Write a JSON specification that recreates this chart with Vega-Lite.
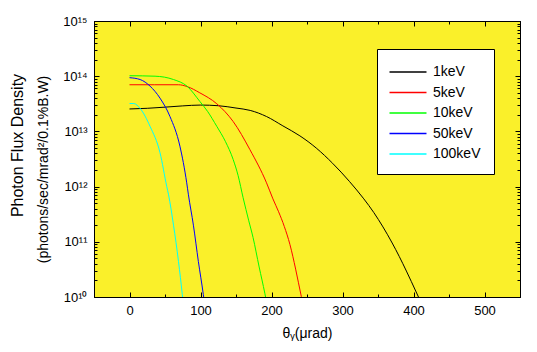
{
  "$schema": "https://vega.github.io/schema/vega-lite/v6.json",
  "width": 426,
  "height": 276,
  "autosize": {"type": "none"},
  "padding": {"left": 94, "top": 21, "right": 17, "bottom": 55},
  "background": "white",
  "config": {
    "view": {"fill": "#FAF02A", "stroke": "black", "strokeWidth": 1},
    "font": "Liberation Sans",
    "axis": {
      "grid": false,
      "domainColor": "black",
      "tickColor": "black",
      "labelColor": "black",
      "titleColor": "black",
      "labelFont": "Liberation Sans",
      "titleFont": "Liberation Sans",
      "labelFontSize": 13,
      "titleFontSize": 14,
      "titleFontWeight": "normal",
      "labelFlush": false,
      "labelOverlap": false
    },
    "legend": {
      "labelFont": "Liberation Sans",
      "labelFontSize": 14,
      "labelColor": "black"
    }
  },
  "data": {
    "values": [
      {"e": "1keV", "t": 0, "f": 2.55e13},
      {"e": "1keV", "t": 25, "f": 2.62e13},
      {"e": "1keV", "t": 50, "f": 2.75e13},
      {"e": "1keV", "t": 75, "f": 2.9e13},
      {"e": "1keV", "t": 100, "f": 3.0e13},
      {"e": "1keV", "t": 125, "f": 2.92e13},
      {"e": "1keV", "t": 150, "f": 2.65e13},
      {"e": "1keV", "t": 170, "f": 2.4e13},
      {"e": "1keV", "t": 193, "f": 1.86e13},
      {"e": "1keV", "t": 216, "f": 1.26e13},
      {"e": "1keV", "t": 240, "f": 8.3e12},
      {"e": "1keV", "t": 263, "f": 5.0e12},
      {"e": "1keV", "t": 286, "f": 2.65e12},
      {"e": "1keV", "t": 310, "f": 1.23e12},
      {"e": "1keV", "t": 330, "f": 6.0e11},
      {"e": "1keV", "t": 344, "f": 3.4e11},
      {"e": "1keV", "t": 357, "f": 1.86e11},
      {"e": "1keV", "t": 370, "f": 9.5e10},
      {"e": "1keV", "t": 380, "f": 5.4e10},
      {"e": "1keV", "t": 390, "f": 2.95e10},
      {"e": "1keV", "t": 397, "f": 1.9e10},
      {"e": "1keV", "t": 407, "f": 1.0e10},
      {"e": "1keV", "t": 412, "f": 7.2e9},
      {"e": "5keV", "t": 0, "f": 7.0e13},
      {"e": "5keV", "t": 35, "f": 7.0e13},
      {"e": "5keV", "t": 69, "f": 7.0e13},
      {"e": "5keV", "t": 81, "f": 6.5e13},
      {"e": "5keV", "t": 99, "f": 5.0e13},
      {"e": "5keV", "t": 123, "f": 3.16e13},
      {"e": "5keV", "t": 146, "f": 1.51e13},
      {"e": "5keV", "t": 169.5, "f": 4.7e12},
      {"e": "5keV", "t": 193, "f": 1.17e12},
      {"e": "5keV", "t": 202, "f": 6.0e11},
      {"e": "5keV", "t": 210, "f": 3.5e11},
      {"e": "5keV", "t": 218, "f": 1.9e11},
      {"e": "5keV", "t": 226, "f": 8.9e10},
      {"e": "5keV", "t": 234, "f": 3.2e10},
      {"e": "5keV", "t": 242, "f": 1.02e10},
      {"e": "5keV", "t": 245, "f": 6.8e9},
      {"e": "10keV", "t": 0, "f": 1.02e14},
      {"e": "10keV", "t": 36, "f": 1.0e14},
      {"e": "10keV", "t": 62, "f": 8.7e13},
      {"e": "10keV", "t": 81, "f": 6.6e13},
      {"e": "10keV", "t": 99, "f": 3.5e13},
      {"e": "10keV", "t": 110, "f": 2.3e13},
      {"e": "10keV", "t": 123, "f": 1.23e13},
      {"e": "10keV", "t": 135, "f": 6.6e12},
      {"e": "10keV", "t": 146, "f": 3.1e12},
      {"e": "10keV", "t": 153, "f": 1.58e12},
      {"e": "10keV", "t": 160, "f": 6.3e11},
      {"e": "10keV", "t": 168, "f": 2.4e11},
      {"e": "10keV", "t": 174, "f": 1.2e11},
      {"e": "10keV", "t": 182.6, "f": 3.5e10},
      {"e": "10keV", "t": 190.6, "f": 1.17e10},
      {"e": "10keV", "t": 194, "f": 7e9},
      {"e": "50keV", "t": 0, "f": 9.4e13},
      {"e": "50keV", "t": 15, "f": 8.7e13},
      {"e": "50keV", "t": 29, "f": 6.6e13},
      {"e": "50keV", "t": 43, "f": 4.0e13},
      {"e": "50keV", "t": 57, "f": 1.86e13},
      {"e": "50keV", "t": 71, "f": 5.4e12},
      {"e": "50keV", "t": 80.6, "f": 1.17e12},
      {"e": "50keV", "t": 83, "f": 7.1e11},
      {"e": "50keV", "t": 90, "f": 2.0e11},
      {"e": "50keV", "t": 97, "f": 4.4e10},
      {"e": "50keV", "t": 104, "f": 1.1e10},
      {"e": "50keV", "t": 106, "f": 7e9},
      {"e": "100keV", "t": 0, "f": 3.2e13},
      {"e": "100keV", "t": 6, "f": 3.2e13},
      {"e": "100keV", "t": 15, "f": 2.6e13},
      {"e": "100keV", "t": 29, "f": 1.23e13},
      {"e": "100keV", "t": 43, "f": 4.1e12},
      {"e": "100keV", "t": 52.5, "f": 1.0e12},
      {"e": "100keV", "t": 55, "f": 7.1e11},
      {"e": "100keV", "t": 62, "f": 2.0e11},
      {"e": "100keV", "t": 69, "f": 4.4e10},
      {"e": "100keV", "t": 74.4, "f": 1.1e10},
      {"e": "100keV", "t": 76, "f": 7e9}
    ]
  },
  "layer": [
    {
      "mark": {"type": "line", "clip": true, "strokeWidth": 1, "interpolate": "monotone"},
      "encoding": {
        "x": {
          "field": "t", "type": "quantitative",
          "scale": {"domain": [-50, 550], "nice": false, "zero": false},
          "axis": {
            "orient": "bottom",
            "values": [0, 50, 100, 150, 200, 250, 300, 350, 400, 450, 500],
            "tickSize": {"condition": {"test": "datum.value % 100 === 0", "value": -5}, "value": -3},
            "labelExpr": "datum.value % 100 === 0 ? format(datum.value, 'd') : ''",
            "labelPadding": 12,
            "title": "θᵧ(μrad)",
            "titleX": 213,
            "titleY": 36,
            "titleBaseline": "middle",
            "titleAlign": "center",
            "titleAnchor": null
          }
        },
        "y": {
          "field": "f", "type": "quantitative",
          "scale": {"type": "log", "domain": [1e10, 1e15], "nice": false},
          "axis": {
            "orient": "left",
            "values": [1e10, 2e10, 3e10, 4e10, 5e10, 6e10, 7e10, 8e10, 9e10,
                       1e11, 2e11, 3e11, 4e11, 5e11, 6e11, 7e11, 8e11, 9e11,
                       1e12, 2e12, 3e12, 4e12, 5e12, 6e12, 7e12, 8e12, 9e12,
                       1e13, 2e13, 3e13, 4e13, 5e13, 6e13, 7e13, 8e13, 9e13,
                       1e14, 2e14, 3e14, 4e14, 5e14, 6e14, 7e14, 8e14, 9e14, 1e15],
            "tickSize": {"condition": {"test": "abs(log(datum.value)/LN10 - round(log(datum.value)/LN10)) < 0.01", "value": -5}, "value": -3},
            "labelExpr": "abs(log(datum.value)/LN10 - round(log(datum.value)/LN10)) < 0.01 ? '10¹' + ['⁰','¹','²','³','⁴','⁵'][round(log(datum.value)/LN10) - 10] : ''",
            "labelPadding": 12,
            "labelBaseline": "middle",
            "title": "(photons/sec/mrad²/0.1%B.W)",
            "titleX": -51,
            "titleY": 148,
            "titleAngle": -90,
            "titleBaseline": "middle",
            "titleAlign": "center",
            "titleAnchor": null
          }
        },
        "color": {
          "field": "e", "type": "nominal",
          "scale": {
            "domain": ["1keV", "5keV", "10keV", "50keV", "100keV"],
            "range": ["#000000", "#FF0000", "#00FF00", "#0000FF", "#00FFFF"]
          },
          "legend": {
            "title": null,
            "orient": "none",
            "legendX": 283,
            "legendY": 28,
            "fillColor": "white",
            "strokeColor": "black",
            "padding": 13,
            "symbolType": "M-2,0H2",
            "symbolSize": 342,
            "symbolOffset": 8,
            "symbolStrokeWidth": 1.4,
            "labelOffset": 15,
            "rowPadding": 3.5,
            "encode": {
              "symbols": {
                "update": {
                  "stroke": {"scale": "color", "field": "value"},
                  "strokeWidth": {"value": 1.4},
                  "opacity": {"value": 1}
                }
              }
            }
          }
        }
      }
    },
    {
      "mark": {"type": "line", "clip": true, "strokeOpacity": 0},
      "encoding": {
        "x": {
          "field": "t", "type": "quantitative",
          "axis": {
            "orient": "top",
            "values": [0, 50, 100, 150, 200, 250, 300, 350, 400, 450, 500],
            "tickSize": {"condition": {"test": "datum.value % 100 === 0", "value": -5}, "value": -3},
            "labels": false,
            "title": null
          }
        },
        "y": {
          "field": "f", "type": "quantitative",
          "axis": {
            "orient": "right",
            "values": [1e10, 2e10, 3e10, 4e10, 5e10, 6e10, 7e10, 8e10, 9e10,
                       1e11, 2e11, 3e11, 4e11, 5e11, 6e11, 7e11, 8e11, 9e11,
                       1e12, 2e12, 3e12, 4e12, 5e12, 6e12, 7e12, 8e12, 9e12,
                       1e13, 2e13, 3e13, 4e13, 5e13, 6e13, 7e13, 8e13, 9e13,
                       1e14, 2e14, 3e14, 4e14, 5e14, 6e14, 7e14, 8e14, 9e14, 1e15],
            "tickSize": {"condition": {"test": "abs(log(datum.value)/LN10 - round(log(datum.value)/LN10)) < 0.01", "value": -5}, "value": -3},
            "labels": false,
            "title": null
          }
        },
        "detail": {"field": "e", "type": "nominal"}
      }
    },
    {
      "mark": {"type": "line", "clip": true, "strokeOpacity": 0},
      "encoding": {
        "x": {"field": "t", "type": "quantitative", "axis": null},
        "y": {
          "field": "f", "type": "quantitative",
          "axis": {
            "orient": "left",
            "ticks": false,
            "labels": false,
            "domain": false,
            "title": "Photon Flux Density",
            "titleFontSize": 16,
            "titleX": -77,
            "titleY": 124,
            "titleAngle": -90,
            "titleBaseline": "middle",
            "titleAlign": "center",
            "titleAnchor": null
          }
        },
        "detail": {"field": "e", "type": "nominal"}
      }
    }
  ],
  "resolve": {"axis": {"x": "independent", "y": "independent"}}
}
